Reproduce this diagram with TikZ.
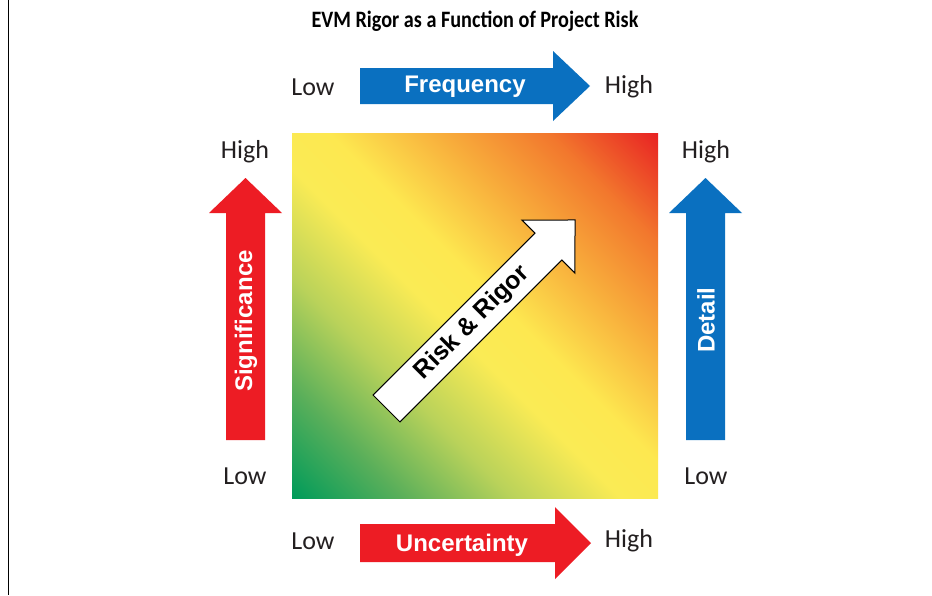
\documentclass[tikz,border=0pt]{standalone}
\usepackage{fontspec}
\setmainfont{Carlito}
\newfontfamily\arrowfont{Liberation Sans}
\newfontfamily\titlefont[FakeStretch=0.86]{Carlito}
\definecolor{cg0}{RGB}{0,155,90}
\definecolor{cg1}{RGB}{90,175,90}
\definecolor{cg2}{RGB}{185,210,90}
\definecolor{cg3}{RGB}{250,235,85}
\definecolor{cg4}{RGB}{253,232,80}
\definecolor{cg5}{RGB}{248,175,60}
\definecolor{cg6}{RGB}{242,120,45}
\definecolor{cg7}{RGB}{232,35,35}
\definecolor{evmred}{RGB}{237,28,36}
\definecolor{evmblue}{RGB}{10,112,192}
\definecolor{evmtext}{RGB}{35,31,32}
\pgfdeclarehorizontalshading{evmgrad}{100bp}{color(0bp)=(cg0); color(14.64bp)=(cg0); color(25.25bp)=(cg1); color(35.85bp)=(cg2); color(46.46bp)=(cg3); color(53.53bp)=(cg4); color(64.14bp)=(cg5); color(74.74bp)=(cg6); color(85.36bp)=(cg7); color(100bp)=(cg7)}
\tikzset{
  lvl/.style={font=\fontsize{26}{28}\selectfont, text=evmtext, inner sep=0pt},
  arrlabel/.style={font=\arrowfont\bfseries\fontsize{24}{26}\selectfont, text=white, inner sep=0pt},
  redarrow/.style={fill=evmred, draw=none},
  bluearrow/.style={fill=evmblue, draw=none},
}
\begin{document}
\begin{tikzpicture}[x=1pt,y=-1pt]
\useasboundingbox (0,0) rectangle (932,595);
\fill[white] (0,0) rectangle (932,595);
\draw[line width=1.5pt, black] (8.5,0) -- (8.5,595);
% title
\node[font=\titlefont\bfseries\fontsize{23.5}{25}\selectfont, text=black, inner sep=0pt] (title) at (475,21) {EVM Rigor as a Function of Project Risk};
% gradient square
\shade[shading=evmgrad, shading angle=45] (292,133) rectangle (658,498);
\coordinate (sq) at (475,315.5);
% top arrow (Frequency)
\fill[bluearrow] (360,68) -- (553,68) -- (553,51) -- (590,86) -- (553,121) -- (553,104) -- (360,104) -- cycle;
\node[arrlabel] (freq) at (465,87) {Frequency};
\node[lvl] (ftlow) at (313,87) {Low};
\node[lvl] (fthigh) at (629,87) {High};
% bottom arrow (Uncertainty)
\fill[redarrow] (360,524) -- (555,524) -- (555,507) -- (591,543) -- (555,579) -- (555,562) -- (360,562) -- cycle;
\node[arrlabel] (unc) at (462,545) {Uncertainty};
\node[lvl] (ublow) at (313,541) {Low};
\node[lvl] (ubhigh) at (629,541) {High};
% left arrow (Significance)
\fill[redarrow] (226,440) -- (226,213) -- (209,213) -- (245.5,178) -- (282,213) -- (265,213) -- (265,440) -- cycle;
\node[arrlabel, rotate=90] (sig) at (246,321) {Significance};
\node[lvl] (slhigh) at (245,152) {High};
\node[lvl] (sllow) at (245,476) {Low};
% right arrow (Detail)
\fill[bluearrow] (686,440) -- (686,213) -- (669,213) -- (705.5,178) -- (742,213) -- (725,213) -- (725,440) -- cycle;
\node[arrlabel, rotate=90] (det) at (706,320) {Detail};
\node[lvl] (drhigh) at (706,152) {High};
\node[lvl] (drlow) at (706,476) {Low};
% diagonal white arrow
\begin{scope}[shift={(386.5,408.5)}, rotate=45]
\draw[fill=white, draw=black, line width=1pt, line join=miter]
  (0,-19) -- (229,-19) -- (229,-37.5) -- (266.6,0) -- (229,37.5) -- (229,19) -- (0,19) -- cycle;
\end{scope}
\node[font=\arrowfont\bfseries\fontsize{25}{27}\selectfont, text=black, inner sep=0pt, rotate=45] (risk) at (472.5,323) {Risk \& Rigor};
\end{tikzpicture}
\end{document}
